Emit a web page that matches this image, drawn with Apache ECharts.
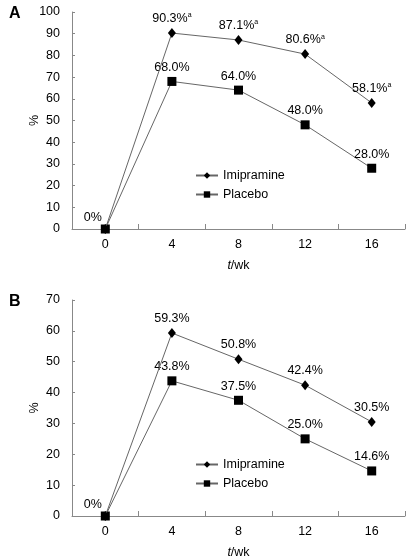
<!DOCTYPE html>
<html><head><meta charset="utf-8">
<script src="https://cdn.jsdelivr.net/npm/echarts@6/dist/echarts.min.js"></script>
<style>html,body{margin:0;padding:0;background:#fff}#c{width:412px;height:560px}</style>
</head><body><div id="c"></div>
<script>
const weeks = ['0','4','8','12','16'];
const imiA = [0, 90.3, 87.1, 80.6, 58.1];
const plaA = [0, 68.0, 64.0, 48.0, 28.0];
const supA = [false, true, true, true, true];
const imiB = [0, 59.3, 50.8, 42.4, 30.5];
const plaB = [0, 43.8, 37.5, 25.0, 14.6];
const yTicksA = {min: 0, max: 100, interval: 10};
const yTicksB = {min: 0, max: 70, interval: 10};

const FONT = 'Liberation Sans';
const fmtVal = v => v === 0 ? '0%' : v.toFixed(1) + '%';
const rich = {
  v: {fontFamily: FONT, fontSize: 12.5, color: '#000'},
  s: {fontFamily: FONT, fontSize: 7, color: '#000', verticalAlign: 'top', padding: [0,0,6,0]}
};
function mkData(vals, sup, showZero) {
  return vals.map((v, i) => {
    const d = {value: v};
    if (i === 0) {
      d.label = showZero ? {show: true, position: 'left', offset: [6, -11], formatter: '{v|0%}', rich} : {show: false};
    } else {
      d.label = {show: true, position: 'top', distance: 3,
        formatter: '{v|' + fmtVal(v) + '}' + (sup && sup[i] ? '{s|a}' : ''), rich};
    }
    return d;
  });
}
const lineStyle = {color: '#666', width: 1};
function series(name, vals, sup, showZero, xi, symbol, size) {
  return {name, type: 'line', xAxisIndex: xi, yAxisIndex: xi, data: mkData(vals, sup, showZero),
    symbol, symbolSize: size, showSymbol: true, itemStyle: {color: '#000'}, lineStyle,
    emphasis: {disabled: true}, animation: false, z: symbol === 'rect' ? 3 : 4};
}
const axisLine = {show: true, lineStyle: {color: '#888', width: 1}};
function xAxis(gi) {
  return {type: 'category', gridIndex: gi, data: weeks, boundaryGap: true,
    axisLine, axisTick: {show: true, inside: true, length: 5, lineStyle: {color: '#888'}},
    axisLabel: {color: '#000', fontFamily: FONT, fontSize: 12.5, margin: 9},
    name: '{i|t}{n|/wk}', nameLocation: 'middle', nameGap: 30, nameMoveOverlap: false,
    nameTextStyle: {rich: {i: {fontStyle: 'italic', fontFamily: FONT, fontSize: 12.5, color: '#000'},
      n: {fontFamily: FONT, fontSize: 12.5, color: '#000'}}},
    splitLine: {show: false}};
}
function yAxis(gi, t) {
  return {type: 'value', gridIndex: gi, min: t.min, max: t.max, interval: t.interval,
    axisLine, axisTick: {show: true, inside: true, length: 3, lineStyle: {color: '#888'}},
    axisLabel: {color: '#000', fontFamily: FONT, fontSize: 12.5, margin: 12},
    name: '%', nameLocation: 'middle', nameGap: 31, nameRotate: 90, nameMoveOverlap: false,
    nameTextStyle: {color: '#000', fontFamily: FONT, fontSize: 12.5},
    splitLine: {show: false}};
}
const legendBase = {orient: 'vertical', left: 190, itemWidth: 22, itemHeight: 8, itemGap: 6,
  textStyle: {color: '#000', fontFamily: FONT, fontSize: 12.5},
  data: [{name: 'Imipramine'}, {name: 'Placebo'}]};
const chart = echarts.init(document.getElementById('c'), null, {renderer: 'canvas'});
chart.setOption({
  animation: false,
  graphic: [
    {type: 'text', left: 9, top: 6, style: {text: 'A', font: 'bold 16px "Liberation Sans"', fill: '#000'}},
    {type: 'text', left: 9, top: 294, style: {text: 'B', font: 'bold 16px "Liberation Sans"', fill: '#000'}}
  ],
  grid: [
    {left: 72, top: 12, width: 333, height: 217},
    {left: 72, top: 300, width: 333, height: 216}
  ],
  legend: [
    Object.assign({}, legendBase, {top: 164}),
    Object.assign({}, legendBase, {top: 453})
  ],
  xAxis: [xAxis(0), xAxis(1)],
  yAxis: [yAxis(0, yTicksA), yAxis(1, yTicksB)],
  series: [
    series('Imipramine', imiA, supA, false, 0, 'diamond', [8, 10]),
    series('Placebo', plaA, null, true, 0, 'rect', 9),
    series('Imipramine', imiB, null, false, 1, 'diamond', [8, 10]),
    series('Placebo', plaB, null, true, 1, 'rect', 9)
  ]
});
</script></body></html>
